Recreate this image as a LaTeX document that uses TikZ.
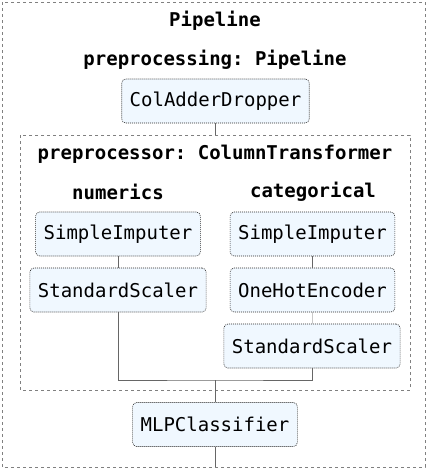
\documentclass[tikz,border=0pt]{standalone}
\usepackage{fontspec}
\setmonofont{DejaVu Sans Mono}
\usetikzlibrary{positioning}
\definecolor{stepfill}{HTML}{F0F8FF}
\tikzset{
  estimator/.style={
    rectangle,
    rounded corners=4pt,
    fill=stepfill,
    draw=black!85, line width=0.6pt, dash pattern=on 1pt off 1pt,
    inner xsep=8pt,
    minimum height=44pt,
    font=\ttfamily\fontsize{19}{22}\selectfont},
  grouptitle/.style={font=\ttfamily\bfseries\fontsize{19}{22}\selectfont},
  group/.style={draw=black!50, dashed, thin},
  link/.style={draw=black!60, thin},
}

\begin{document}
\begin{tikzpicture}[x=1pt,y=-1pt]
  \useasboundingbox (0,0) rectangle (427,469);
  % outer and inner groups
  \draw[group] (2,2) rectangle (425,467);
  \draw[group] (20,135) rectangle (410,390);
  \coordinate (ctTop) at (215,135);
  \coordinate (outBot) at (215,467);
  \coordinate (merge) at (215,380);
  % titles
  \node[grouptitle] (pipe) at (215,21) {Pipeline};
  \node[grouptitle] (prep) at (215,60) {preprocessing: Pipeline};
  \node[grouptitle] (ct) at (215,154) {preprocessor: ColumnTransformer};
  \node[grouptitle] (num) at (118,192) {numerics};
  \node[grouptitle] (cat) at (313,192) {categorical};
  % steps
  \node[estimator] (cad) at (215.5,101) {ColAdderDropper};
  \node[estimator] (numSI) at (118,234) {SimpleImputer};
  \node[estimator] (numSS) at (118,290) {StandardScaler};
  \node[estimator] (catSI) at (312.5,234) {SimpleImputer};
  \node[estimator] (ohe) at (312.5,290) {OneHotEncoder};
  \node[estimator] (catSS) at (312,346) {StandardScaler};
  \node[estimator] (mlp) at (215,424.5) {MLPClassifier};
  % connectors
  \draw[link] (cad.south) -- (cad.south |- ctTop);
  \draw[link] (numSI) -- (numSS);
  \draw[link] (catSI) -- (ohe);
  \draw[link] (ohe) -- (catSS);
  \draw[link] (numSS.south) |- (merge) -| (catSS.south);
  \draw[link] (merge) -- (mlp);
  \draw[link] (mlp.south) -- (mlp.south |- outBot);
\end{tikzpicture}
\end{document}
